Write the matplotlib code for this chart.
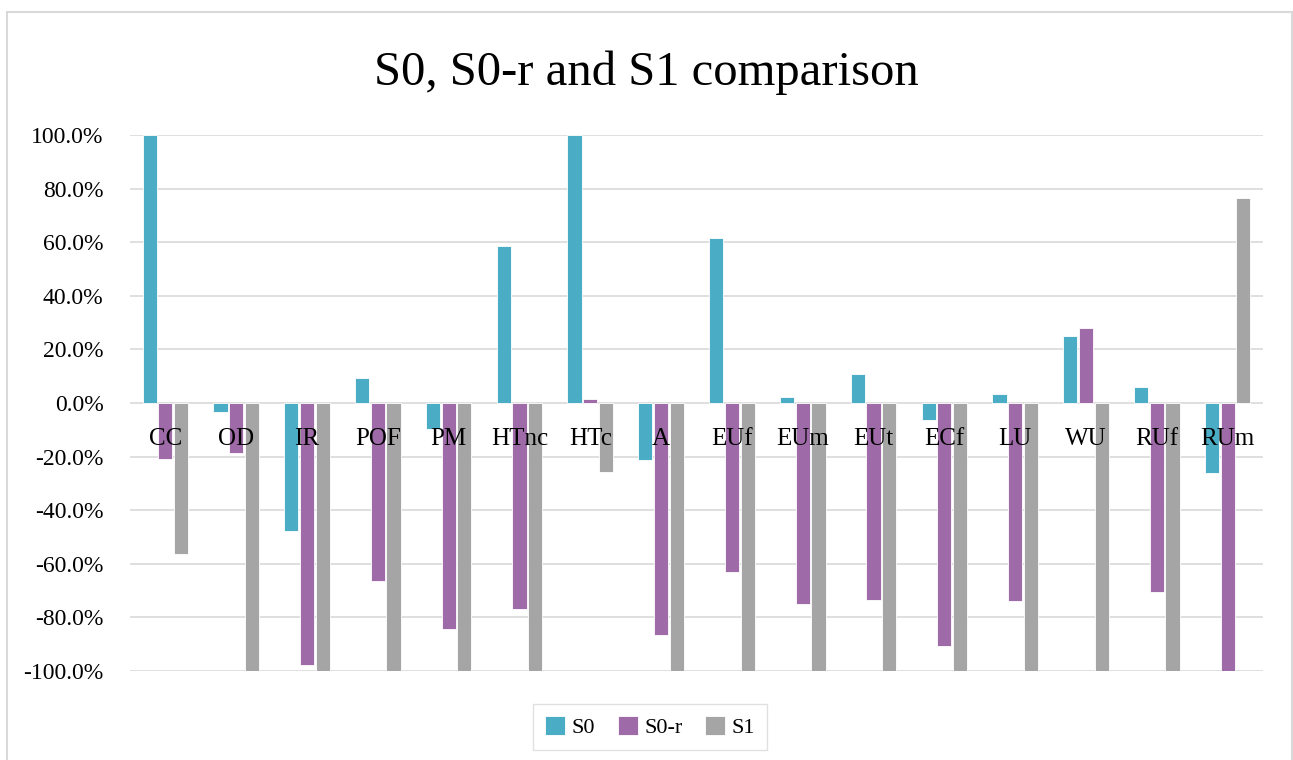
import numpy as np
import matplotlib.pyplot as plt
from matplotlib.patches import Rectangle
from matplotlib.ticker import FuncFormatter

# data (percent)
categories = ['CC', 'OD', 'IR', 'POF', 'PM', 'HTnc', 'HTc', 'A', 'EUf', 'EUm',
              'EUt', 'ECf', 'LU', 'WU', 'RUf', 'RUm']
s0 = [100.0, -3.5, -47.8, 9.2, -9.6, 58.6, 100.0, -21.3, 61.4, 2.1,
      10.8, -6.5, 3.2, 24.9, 6.1, -26.3]
s0_r = [-21.0, -18.5, -97.9, -66.4, -84.2, -76.8, 1.4, -86.5, -63.0, -75.0,
        -73.5, -90.5, -73.7, 27.9, -70.6, -100.3]
s1 = [-56.5, -100.0, -100.0, -100.0, -100.0, -100.0, -25.9, -100.0, -100.0, -100.0,
      -100.0, -100.0, -100.0, -100.0, -100.0, 76.6]
series_names = ['S0', 'S0-r', 'S1']
colors = ['#4BACC6', '#9F6AA8', '#A5A5A5']

plt.rcParams['font.family'] = ['Liberation Serif', 'DejaVu Serif']

fig = plt.figure(figsize=(12.93, 7.6), dpi=100)
# chart border
fig.patches.append(Rectangle((7 / 1293, -0.01), 1285 / 1293, 1 - 12 / 760 + 0.01,
                             transform=fig.transFigure, fill=False,
                             edgecolor='#D9D9D9', linewidth=1.5))

ax = fig.add_axes([130 / 1293, 89 / 760, 1133 / 1293, 536 / 760])

x = np.arange(len(categories))
w = 0.2
step = 0.222
for k, (vals, name, c) in enumerate(zip([s0, s0_r, s1], series_names, colors)):
    ax.bar(x + (k - 1) * step, vals, width=w, color=c, label=name,
           edgecolor='white', linewidth=0.6, zorder=3)

ax.set_xlim(-0.5, len(categories) - 0.5)
ax.set_ylim(-100, 100)
ax.set_yticks(np.arange(-100, 101, 20))
ax.yaxis.set_major_formatter(FuncFormatter(lambda v, p: f'{v:.1f}%'))
ax.tick_params(axis='y', length=0, pad=19, labelsize=17)
ax.set_xticks([])
ax.grid(axis='y', color='#D9D9D9', linewidth=1.2, zorder=0)
for s in ax.spines.values():
    s.set_visible(False)

for i, cat in enumerate(categories):
    ax.text(i, -13.5, cat, ha='center', va='center', fontsize=18, zorder=4)

fig.text(0.5, 1 - 73 / 760, 'S0, S0-r and S1 comparison', ha='center', va='center',
         fontsize=35)

fig.legend(loc='center', bbox_to_anchor=(650 / 1293, 1 - 727 / 760), ncol=3,
           frameon=True, fancybox=False, edgecolor='#D9D9D9', fontsize=16,
           handlelength=0.9, handleheight=0.9, columnspacing=1.0, handletextpad=0.3,
           borderpad=0.55)

fig.savefig('out.png', dpi=100)
